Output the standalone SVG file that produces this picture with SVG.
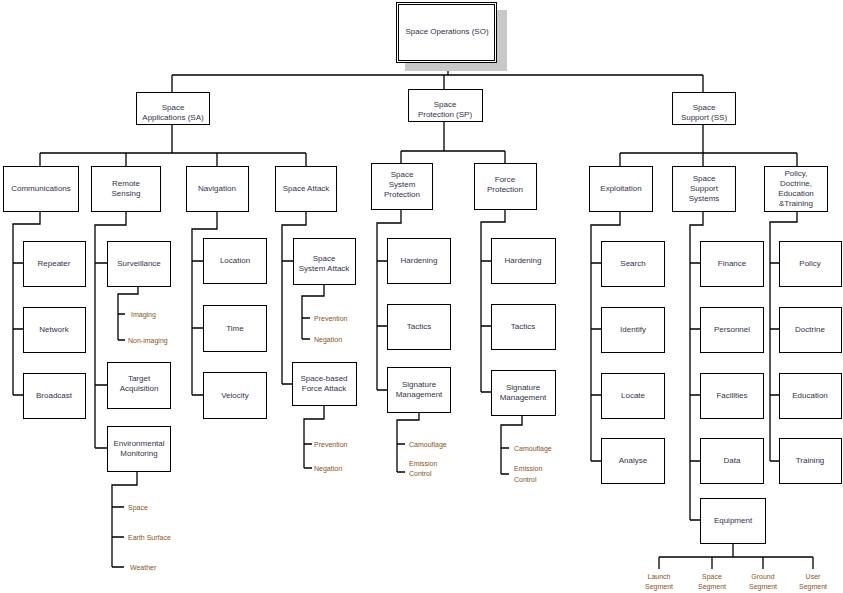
<svg xmlns="http://www.w3.org/2000/svg" width="843" height="593" viewBox="0 0 843 593">
<style>
.box rect{fill:#fff;stroke:#000;stroke-width:1}
.box text{font-family:"Liberation Sans",Arial,sans-serif;font-size:8px;fill:#33334a;text-anchor:middle}
.conn path{fill:none;stroke:#000;stroke-width:1.3}
.leaf text{font-family:"Liberation Sans",Arial,sans-serif;font-size:7px;fill:#8a5418}
.leaf .m{text-anchor:middle}
</style>
<rect width="843" height="593" fill="#fff"/>
<g class="conn">
<path d="M448,62V75M172,75H703M172,75V92M444,75V89M703,75V92"/>
<path d="M172,124V153M40,153H306M40,153V166M126,153V166M217,153V166M306,153V166"/>
<path d="M40,211V224H13V395M13,263H23M13,329H23M13,395H23"/>
<path d="M126,211V225H95V448M95,263H107M95,385H107M95,448H107"/>
<path d="M138,286V294H118V340M118,314H125M118,340H125"/>
<path d="M137,471V485H112V567M112,507H124M112,537H124M112,567H124"/>
<path d="M217,211V229H192V395M192,261H203M192,328H203M192,395H203"/>
<path d="M306,211V225H282V384M282,261H293M282,384H292"/>
<path d="M324,284V296H302V339M302,318H310M302,339H310"/>
<path d="M324,405V419H304V468M304,444H312M304,468H312"/>
<path d="M444,121V151M401,151H505M401,151V163M505,151V163"/>
<path d="M401,209V223H377V390M377,261H387M377,326H387M377,390H387"/>
<path d="M419,412V420H397V472M397,444H405M397,472H405"/>
<path d="M505,209V222H481V392M481,261H491M481,326H491M481,392H491"/>
<path d="M522,415V425H501V474M501,448H509M501,474H509"/>
<path d="M703,124V153M620,153H797M620,153V166M703,153V166M797,153V166"/>
<path d="M620,211V225H591V461M591,263H601M591,329H601M591,395H601M591,461H601"/>
<path d="M703,211V225H690V520M690,263H700M690,329H700M690,395H700M690,461H700M690,520H700"/>
<path d="M733,543V557M659,557H813M659,557V569M712,557V569M763,557V569M813,557V569"/>
<path d="M797,211V222H770V461M770,263H779M770,329H779M770,395H779M770,461H779"/>
</g>
<g id="SO" class="box">
<rect x="405" y="10" width="102" height="61" style="fill:#c8c8c8;stroke:none"/>
<rect x="396.5" y="2.5" width="100" height="60"/>
<rect x="398.5" y="4.5" width="96" height="56"/>
<text x="447" y="34">Space Operations (SO)</text>
</g>
<g id="SA" class="box"><rect x="136.5" y="92.5" width="73" height="32"/><text x="173" y="110">Space</text><text x="173" y="120">Applications (SA)</text></g>
<g id="SP" class="box"><rect x="408.5" y="89.5" width="74" height="32"/><text x="445" y="107">Space</text><text x="445" y="117">Protection (SP)</text></g>
<g id="SS" class="box"><rect x="672.5" y="92.5" width="63" height="32"/><text x="704" y="110">Space</text><text x="704" y="120">Support (SS)</text></g>
<g id="COMM" class="box"><rect x="3.5" y="166.5" width="75" height="45"/><text x="41" y="191">Communications</text></g>
<g id="RS" class="box"><rect x="91.5" y="166.5" width="69" height="45"/><text x="126" y="186">Remote</text><text x="126" y="196">Sensing</text></g>
<g id="NAV" class="box"><rect x="186.5" y="166.5" width="62" height="45"/><text x="217" y="191">Navigation</text></g>
<g id="SATK" class="box"><rect x="275.5" y="166.5" width="61" height="45"/><text x="306" y="191">Space Attack</text></g>
<g id="SSP" class="box"><rect x="371.5" y="163.5" width="61" height="46"/><text x="402" y="177">Space</text><text x="402" y="187">System</text><text x="402" y="197">Protection</text></g>
<g id="FP" class="box"><rect x="474.5" y="163.5" width="62" height="46"/><text x="505" y="182">Force</text><text x="505" y="192">Protection</text></g>
<g id="EXP" class="box"><rect x="589.5" y="166.5" width="63" height="45"/><text x="621" y="191">Exploitation</text></g>
<g id="SSS" class="box"><rect x="672.5" y="166.5" width="63" height="45"/><text x="704" y="181">Space</text><text x="704" y="191">Support</text><text x="704" y="201">Systems</text></g>
<g id="PDET" class="box"><rect x="764.5" y="166.5" width="63" height="45"/><text x="796" y="176">Policy,</text><text x="796" y="186">Doctrine,</text><text x="796" y="196">Education</text><text x="796" y="206">&amp;Training</text></g>
<g id="REP" class="box"><rect x="23.5" y="241.5" width="62" height="45"/><text x="54" y="266">Repeater</text></g>
<g id="NET" class="box"><rect x="23.5" y="307.5" width="62" height="45"/><text x="54" y="332">Network</text></g>
<g id="BRC" class="box"><rect x="23.5" y="373.5" width="62" height="45"/><text x="54" y="398">Broadcast</text></g>
<g id="SURV" class="box"><rect x="107.5" y="241.5" width="63" height="45"/><text x="139" y="266">Surveillance</text></g>
<g id="TACQ" class="box"><rect x="107.5" y="362.5" width="63" height="46"/><text x="139" y="381">Target</text><text x="139" y="391">Acquisition</text></g>
<g id="ENV" class="box"><rect x="107.5" y="426.5" width="63" height="45"/><text x="139" y="446">Environmental</text><text x="139" y="456">Monitoring</text></g>
<g id="LOC" class="box"><rect x="203.5" y="238.5" width="63" height="45"/><text x="235" y="263">Location</text></g>
<g id="TIME" class="box"><rect x="203.5" y="305.5" width="63" height="46"/><text x="235" y="331">Time</text></g>
<g id="VEL" class="box"><rect x="203.5" y="372.5" width="63" height="46"/><text x="235" y="398">Velocity</text></g>
<g id="SSA" class="box"><rect x="293.5" y="238.5" width="62" height="46"/><text x="324" y="261">Space</text><text x="324" y="271">System Attack</text></g>
<g id="SBFA" class="box"><rect x="292.5" y="362.5" width="64" height="43"/><text x="324" y="381">Space-based</text><text x="324" y="391">Force Attack</text></g>
<g id="HARD1" class="box"><rect x="387.5" y="238.5" width="63" height="45"/><text x="419" y="263">Hardening</text></g>
<g id="TAC1" class="box"><rect x="387.5" y="304.5" width="63" height="45"/><text x="419" y="329">Tactics</text></g>
<g id="SIG1" class="box"><rect x="387.5" y="367.5" width="63" height="45"/><text x="419" y="387">Signature</text><text x="419" y="397">Management</text></g>
<g id="HARD2" class="box"><rect x="491.5" y="238.5" width="64" height="45"/><text x="523" y="263">Hardening</text></g>
<g id="TAC2" class="box"><rect x="491.5" y="304.5" width="64" height="45"/><text x="523" y="329">Tactics</text></g>
<g id="SIG2" class="box"><rect x="491.5" y="370.5" width="64" height="45"/><text x="523" y="390">Signature</text><text x="523" y="400">Management</text></g>
<g id="SRCH" class="box"><rect x="601.5" y="241.5" width="63" height="45"/><text x="633" y="266">Search</text></g>
<g id="IDEN" class="box"><rect x="601.5" y="307.5" width="63" height="45"/><text x="633" y="332">Identify</text></g>
<g id="LOCT" class="box"><rect x="601.5" y="373.5" width="63" height="45"/><text x="633" y="398">Locate</text></g>
<g id="ANAL" class="box"><rect x="601.5" y="438.5" width="63" height="45"/><text x="633" y="463">Analyse</text></g>
<g id="FIN" class="box"><rect x="700.5" y="241.5" width="63" height="45"/><text x="732" y="266">Finance</text></g>
<g id="PERS" class="box"><rect x="700.5" y="307.5" width="63" height="45"/><text x="732" y="332">Personnel</text></g>
<g id="FAC" class="box"><rect x="700.5" y="373.5" width="63" height="45"/><text x="732" y="398">Facilities</text></g>
<g id="DATA" class="box"><rect x="700.5" y="438.5" width="63" height="45"/><text x="732" y="463">Data</text></g>
<g id="EQP" class="box"><rect x="700.5" y="498.5" width="65" height="45"/><text x="733" y="523">Equipment</text></g>
<g id="POL" class="box"><rect x="779.5" y="241.5" width="62" height="45"/><text x="810" y="266">Policy</text></g>
<g id="DOC" class="box"><rect x="779.5" y="307.5" width="62" height="45"/><text x="810" y="332">Doctrine</text></g>
<g id="EDU" class="box"><rect x="779.5" y="373.5" width="62" height="45"/><text x="810" y="398">Education</text></g>
<g id="TRN" class="box"><rect x="779.5" y="438.5" width="62" height="45"/><text x="810" y="463">Training</text></g>
<g id="leaves" class="leaf">
<text x="131" y="317">Imaging</text>
<text x="128" y="343">Non-imaging</text>
<text x="128" y="510">Space</text>
<text x="128" y="540">Earth Surface</text>
<text x="130" y="570">Weather</text>
<text x="314" y="321">Prevention</text>
<text x="314" y="342">Negation</text>
<text x="314" y="447">Prevention</text>
<text x="314" y="471">Negation</text>
<text x="409" y="447">Camouflage</text>
<text x="409" y="466">Emission</text>
<text x="409" y="476">Control</text>
<text x="514" y="451">Camouflage</text>
<text x="514" y="471">Emission</text>
<text x="514" y="482">Control</text>
<text class="m" x="659" y="579">Launch</text>
<text class="m" x="659" y="589">Segment</text>
<text class="m" x="712" y="579">Space</text>
<text class="m" x="712" y="589">Segment</text>
<text class="m" x="763" y="579">Ground</text>
<text class="m" x="763" y="589">Segment</text>
<text class="m" x="813" y="579">User</text>
<text class="m" x="813" y="589">Segment</text>
</g>
</svg>
